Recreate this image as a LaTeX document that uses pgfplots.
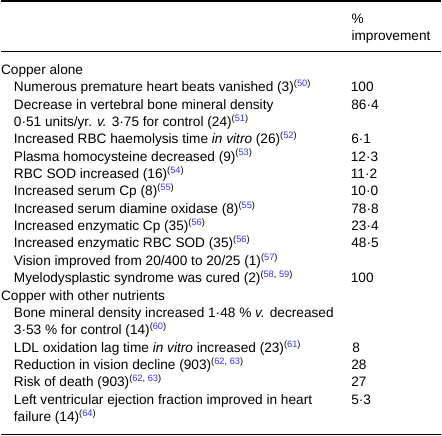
\documentclass[border=0pt]{standalone}
\usepackage{pgfplots}
\pgfplotsset{compat=1.18}
\usepackage{fontspec}
\setmainfont{Liberation Sans}
\definecolor{refblue}{rgb}{0.2,0.2,1}
\newcommand{\sr}[1]{\raisebox{5.2bp}{\fontsize{9.3bp}{10bp}\selectfont(\textcolor{refblue}{#1})}}
\newcommand{\srr}[2]{\raisebox{5.2bp}{\fontsize{9.3bp}{10bp}\selectfont(\textcolor{refblue}{#1}, \textcolor{refblue}{#2})}}
\tikzset{cell/.style={font=\fontsize{13.7bp}{16bp}\selectfont, anchor=base west, inner sep=0pt, outer sep=0pt}}
\begin{document}
\begin{tikzpicture}
\begin{axis}[
  scale only axis, width=442bp, height=437bp,
  xmin=0, xmax=442, ymin=-437, ymax=0,
  hide axis, clip=false,
]
\path (axis cs:0,0) rectangle (axis cs:442,-437);
% rules
\addplot[black, line width=1.6bp, forget plot] coordinates {(0,-1) (442,-1)};
\addplot[black, line width=1bp, forget plot] coordinates {(0,-51.8) (442,-51.8)};
\addplot[black, line width=1bp, forget plot] coordinates {(0,-435.6) (442,-435.6)};
% header
\node[cell] at (axis cs:352,-23.3) {\%};
\node[cell] at (axis cs:352,-40.6) {improvement};
% rows: baseline = 74.5 + 17.44 i
\node[cell] at (axis cs:0.3,-74.5) {Copper alone};
\node[cell] at (axis cs:13.2,-91.9) {Numerous premature heart beats vanished (3)\sr{50}};
\node[cell] at (axis cs:351.3,-91.9) {100};
\node[cell] at (axis cs:13.2,-109.4) {Decrease in vertebral bone mineral density};
\node[cell] at (axis cs:351.8,-109.4) {86·4};
\node[cell] at (axis cs:13.2,-126.8) {0·51 units/yr. \textit{v.} 3·75 for control (24)\sr{51}};
\node[cell] at (axis cs:13.2,-144.3) {Increased RBC haemolysis time \textit{in vitro} (26)\sr{52}};
\node[cell] at (axis cs:351.8,-144.3) {6·1};
\node[cell] at (axis cs:13.2,-161.7) {Plasma homocysteine decreased (9)\sr{53}};
\node[cell] at (axis cs:351.3,-161.7) {12·3};
\node[cell] at (axis cs:13.2,-179.1) {RBC SOD increased (16)\sr{54}};
\node[cell] at (axis cs:351.3,-179.1) {11·2};
\node[cell] at (axis cs:13.2,-196.6) {Increased serum Cp (8)\sr{55}};
\node[cell] at (axis cs:351.3,-196.6) {10·0};
\node[cell] at (axis cs:13.2,-214.0) {Increased serum diamine oxidase (8)\sr{55}};
\node[cell] at (axis cs:351.8,-214.0) {78·8};
\node[cell] at (axis cs:13.2,-231.5) {Increased enzymatic Cp (35)\sr{56}};
\node[cell] at (axis cs:351.8,-231.5) {23·4};
\node[cell] at (axis cs:13.2,-248.9) {Increased enzymatic RBC SOD (35)\sr{56}};
\node[cell] at (axis cs:351.8,-248.9) {48·5};
\node[cell] at (axis cs:13.2,-266.3) {Vision improved from 20/400 to 20/25 (1)\sr{57}};
\node[cell] at (axis cs:13.2,-283.8) {Myelodysplastic syndrome was cured (2)\srr{58}{59}};
\node[cell] at (axis cs:351.3,-283.8) {100};
\node[cell] at (axis cs:0.3,-301.2) {Copper with other nutrients};
\node[cell] at (axis cs:13.2,-318.7) {Bone mineral density increased 1·48 \% \textit{v.} decreased};
\node[cell] at (axis cs:13.2,-336.1) {3·53 \% for control (14)\sr{60}};
\node[cell] at (axis cs:13.2,-353.5) {LDL oxidation lag time \textit{in vitro} increased (23)\sr{61}};
\node[cell] at (axis cs:352.8,-353.5) {8};
\node[cell] at (axis cs:13.2,-371.0) {Reduction in vision decline (903)\srr{62}{63}};
\node[cell] at (axis cs:351.8,-371.0) {28};
\node[cell] at (axis cs:13.2,-388.4) {Risk of death (903)\srr{62}{63}};
\node[cell] at (axis cs:351.8,-388.4) {27};
\node[cell] at (axis cs:13.2,-405.9) {Left ventricular ejection fraction improved in heart};
\node[cell] at (axis cs:351.8,-405.9) {5·3};
\node[cell] at (axis cs:13.2,-423.3) {failure (14)\sr{64}};
\end{axis}
\end{tikzpicture}
\end{document}
